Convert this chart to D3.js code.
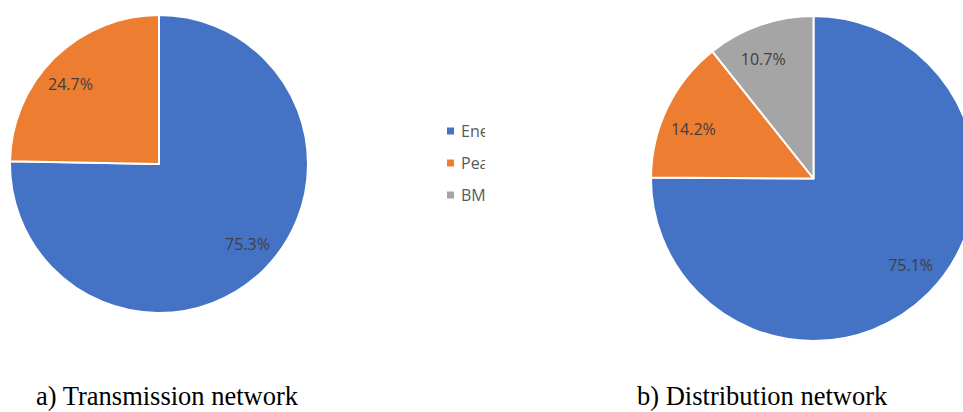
<!DOCTYPE html>
<html>
<head>
<meta charset="utf-8">
<script src="https://cdn.jsdelivr.net/npm/d3@7"></script>
<style>
  html, body { margin: 0; padding: 0; background: #fff; }
  svg { display: block; }
</style>
</head>
<body>
<svg id="chart" width="963" height="412"></svg>
<script>
// ---- data ----
const categories = ["Energy", "Peak", "BMS"];
const colors = ["#4472C4", "#ED7D31", "#A5A5A5"];
const transmissionValues = [75.3, 24.7];
const distributionValues = [75.1, 14.2, 10.7];
const captions = ["a) Transmission network", "b) Distribution network"];

const svg = d3.select("#chart");
const color = d3.scaleOrdinal().domain(categories).range(colors);

function drawPie(values, cx, cy, r) {
  const data = values.map((v, i) => ({ cat: categories[i], value: v }));
  const pie = d3.pie().sort(null).value(d => d.value);
  const arc = d3.arc().innerRadius(0).outerRadius(r);
  const labelArc = d3.arc().innerRadius(r * 0.8).outerRadius(r * 0.8);
  const shift = -3.5 * Math.PI / 180;
  const g = svg.append("g").attr("transform", `translate(${cx},${cy})`);
  const arcs = pie(data);
  g.selectAll("path").data(arcs).join("path")
    .attr("d", arc)
    .attr("fill", d => color(d.data.cat))
    .attr("stroke", "#fff")
    .attr("stroke-width", 2)
    .attr("stroke-linejoin", "round");
  g.selectAll("text").data(arcs).join("text")
    .attr("transform", d => `translate(${labelArc.centroid({startAngle: d.startAngle + shift, endAngle: d.endAngle + shift})})`)
    .attr("text-anchor", "middle")
    .attr("dominant-baseline", "central")
    .attr("font-family", "'Open Sans', 'Liberation Sans', sans-serif")
    .attr("font-size", 16)
    .attr("fill", "#404040")
    .text(d => d.data.value.toFixed(1) + "%");
}

drawPie(transmissionValues, 159, 164, 149);
drawPie(distributionValues, 813.5, 178.5, 162.5);

// ---- legend (clipped as in the reference) ----
svg.append("clipPath").attr("id", "legclip")
  .append("rect").attr("x", 440).attr("y", 110).attr("width", 45).attr("height", 110);
const legend = svg.append("g").attr("clip-path", "url(#legclip)");
const legY = d3.scalePoint().domain(categories).range([131, 195]);
const items = legend.selectAll("g").data(categories).join("g")
  .attr("transform", d => `translate(447,${legY(d)})`);
items.append("rect")
  .attr("x", 0).attr("y", -3.5).attr("width", 7).attr("height", 7)
  .attr("fill", d => color(d));
items.append("text")
  .attr("x", 14).attr("y", 0)
  .attr("dominant-baseline", "central")
  .attr("font-family", "'Open Sans', 'Liberation Sans', sans-serif")
  .attr("font-size", 16)
  .attr("fill", "#595959")
  .text(d => d);

// ---- captions ----
svg.selectAll("text.caption").data(captions).join("text")
  .attr("class", "caption")
  .attr("x", (d, i) => i === 0 ? 36 : 637)
  .attr("y", 405)
  .attr("font-family", "'Liberation Serif', 'Times New Roman', serif")
  .attr("font-size", 26.5)
  .attr("fill", "#000")
  .text(d => d);
</script>
</body>
</html>
